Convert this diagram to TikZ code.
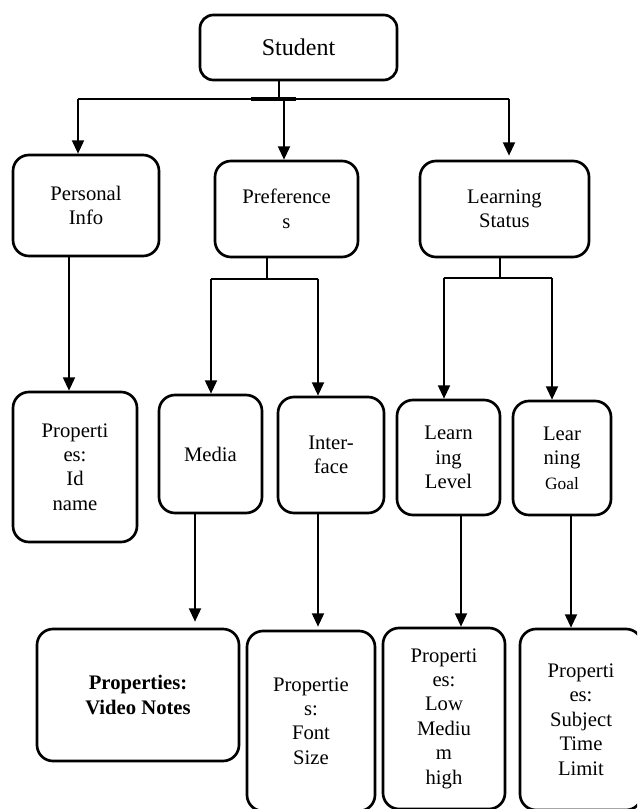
\documentclass[tikz,border=0pt]{standalone}
\usepackage{fontspec}
\setmainfont{Liberation Serif}
\usetikzlibrary{arrows.meta,calc}
\begin{document}
\begin{tikzpicture}[x=0.75pt,y=-0.75pt,
  bx/.style={draw, line width=2pt, rounded corners=12pt, align=center, inner sep=0pt,
    font=\fontsize{15.5}{18.3}\selectfont},
  ln/.style={line width=1.4pt},
  arr/.style={ln, -{Triangle[width=9pt,length=10pt]}}]
\useasboundingbox (0,0) rectangle (637,809);
\clip (0,0) rectangle (637,809);
% nodes
\node[bx, rounded corners=10pt, minimum width=147.75pt, minimum height=48.75pt,
  font=\fontsize{18}{21}\selectfont] (student) at (298.5,47.5) {Student};
\node[bx, minimum width=109.5pt, minimum height=75.75pt] (personal) at (86,205.5) {Personal\\Info};
\node[bx, minimum width=107.25pt, minimum height=72pt] (prefs) at (286.5,209) {Preference\\s};
\node[bx, minimum width=126.75pt, minimum height=72pt] (lstatus) at (504.5,209) {Learning\\Status};
\node[bx, minimum width=93pt, minimum height=112.5pt] (props1) at (75,467) {Properti\\es:\\Id\\name};
\node[bx, minimum width=77.25pt, minimum height=88.5pt] (media) at (210.5,454) {Media};
\node[bx, minimum width=79.5pt, minimum height=87pt] (iface) at (331,455) {Inter-\\face};
\node[bx, minimum width=77.25pt, minimum height=86.25pt] (llevel) at (448.5,457.5) {Learn\\ing\\Level};
\node[bx, minimum width=73.5pt, minimum height=85.5pt] (lgoal) at (562,458) {Lear\\ning\\{\fontsize{13}{18.3}\selectfont Goal}};
\node[bx, minimum width=151.5pt, minimum height=99pt,
  font=\fontsize{15.5}{18.3}\selectfont\bfseries] (video) at (138,695) {Properties:\\Video Notes};
\node[bx, minimum width=96pt, minimum height=135pt] (fontsize) at (311,721) {Propertie\\s:\\Font\\Size};
\node[bx, minimum width=91.5pt, minimum height=135.75pt] (lmh) at (444,718.5) {Properti\\es:\\Low\\Mediu\\m\\high};
\node[bx, minimum width=91.5pt, minimum height=135.75pt] (subj) at (581,719.5) {Properti\\es:\\Subject\\Time\\Limit};
% student bus
\coordinate (s1) at (279,99);
\coordinate (sL) at (78,99);
\coordinate (sM) at (284,99);
\coordinate (sR) at (509,99);
\coordinate (tk1) at (251,99);
\coordinate (tk2) at (296,99);
\draw[ln] (student.south -| s1) -- (s1);
\draw[ln] (sL) -- (sR);
\draw[line width=2.4pt] (tk1) -- (tk2);
\draw[arr] (sL) -- (sL |- personal.north);
\draw[arr] (sM) -- (sM |- prefs.north);
\draw[arr] (sR) -- ($(sR |- lstatus.north)+(0,-4)$);
% personal info
\coordinate (p1) at (69,0);
\draw[arr] (personal.south -| p1) -- (props1.north -| p1);
% preferences bus
\coordinate (q0) at (267,279);
\coordinate (qL) at (211,279);
\coordinate (qR) at (318,279);
\draw[ln] (prefs.south -| q0) -- (q0);
\draw[ln] (qL) -- (qR);
\draw[arr] (qL) -- (qL |- media.north);
\draw[arr] (qR) -- (qR |- iface.north);
% learning status bus
\coordinate (r0) at (500,278);
\coordinate (rL) at (444,278);
\coordinate (rR) at (552,278);
\draw[ln] (lstatus.south -| r0) -- (r0);
\draw[ln] (rL) -- (rR);
\draw[arr] (rL) -- (rL |- llevel.north);
\draw[arr] (rR) -- (rR |- lgoal.north);
% lower arrows
\coordinate (m1) at (195,0);
\coordinate (i1) at (318,0);
\coordinate (l1) at (461,0);
\coordinate (g1) at (571,0);
\draw[arr] (media.south -| m1) -- ($(video.north -| m1)+(0,-6)$);
\draw[arr] (iface.south -| i1) -- ($(fontsize.north -| i1)+(0,-3)$);
\draw[arr] (llevel.south -| l1) -- (lmh.north -| l1);
\draw[arr] (lgoal.south -| g1) -- (subj.north -| g1);
\end{tikzpicture}
\end{document}
